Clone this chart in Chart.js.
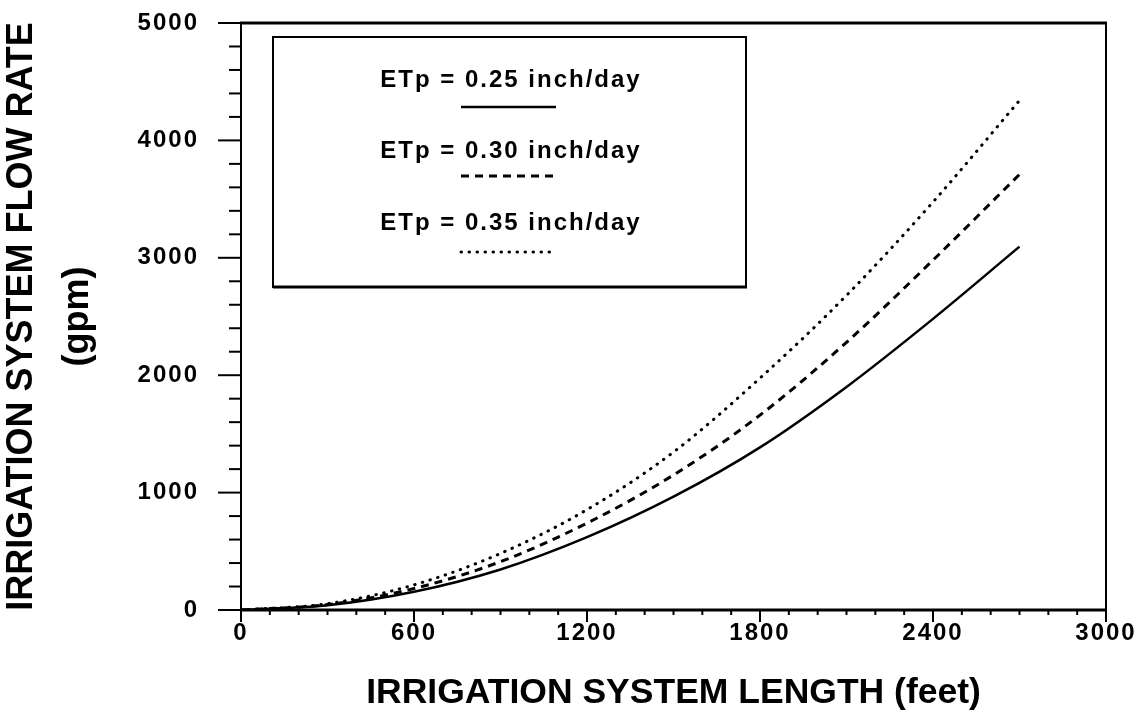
<!DOCTYPE html>
<html>
<head>
<meta charset="utf-8">
<script src="https://cdn.jsdelivr.net/npm/chart.js@4/dist/chart.umd.min.js"></script>
<style>
  html, body { margin: 0; padding: 0; background: #fff; }
  #wrap { width: 1145px; height: 714px; }
</style>
</head>
<body>
<div id="wrap"><canvas id="c" width="1145" height="714"></canvas></div>
<script>
// --- data (length in feet, flow in gpm) ---
const LENGTH_FT = [0, 300, 600, 900, 1200, 1500, 1800, 2100, 2400, 2700];
const FLOW_025 = [0, 40, 155, 345, 620, 965, 1385, 1900, 2480, 3095];
const FLOW_030 = [0, 46, 183, 412, 740, 1150, 1660, 2280, 2980, 3710];
const FLOW_035 = [0, 54, 214, 482, 855, 1345, 1975, 2680, 3475, 4340];
const SERIES_LABELS = ["ETp = 0.25 inch/day", "ETp = 0.30 inch/day", "ETp = 0.35 inch/day"];
const X_TICKS = [0, 600, 1200, 1800, 2400, 3000];
const Y_TICKS = [0, 1000, 2000, 3000, 4000, 5000];
const X_TITLE = "IRRIGATION SYSTEM LENGTH (feet)";
const Y_TITLE = ["IRRIGATION SYSTEM FLOW RATE", "(gpm)"];

const pts = (ys) => LENGTH_FT.map((x, i) => ({ x, y: ys[i] }));
const SANS = '"Liberation Sans", Arial, sans-serif';

// frame + minor/major tick marks (outside), drawn through the scales
const framePlugin = {
  id: "frame",
  afterDatasetsDraw(chart) { chart.ctx.letterSpacing = "2px"; }, // wide tick digits
  afterDraw(chart) {
    const { ctx, chartArea: a, scales: { x, y } } = chart;
    ctx.save();
    ctx.letterSpacing = "0px";
    ctx.strokeStyle = "#000";
    ctx.lineCap = "butt";
    const seg = (x1, y1, x2, y2, w) => { ctx.lineWidth = w; ctx.beginPath(); ctx.moveTo(x1, y1); ctx.lineTo(x2, y2); ctx.stroke(); };
    for (let v = x.min; v <= x.max; v += 100) {
      const px = x.getPixelForValue(v);
      seg(px, a.bottom, px, a.bottom + (v % 600 === 0 ? 12 : 5), 2);
    }
    for (let v = y.min; v <= y.max; v += 200) {
      const py = y.getPixelForValue(v);
      seg(a.left - (v % 1000 === 0 ? 23 : 12), py, a.left, py, 2);
    }
    seg(a.left - 1, a.top, a.right + 1, a.top, 3);
    seg(a.left - 1, a.bottom, a.right + 1, a.bottom, 3);
    seg(a.left, a.top, a.left, a.bottom, 2);
    seg(a.right, a.top, a.right, a.bottom, 2);
    ctx.restore();
  }
};

// boxed legend: label text with the line sample underneath
const boxLegend = {
  id: "boxLegend",
  afterDraw(chart) {
    const { ctx } = chart;
    ctx.save();
    ctx.strokeStyle = "#000";
    ctx.lineWidth = 2;
    ctx.strokeRect(273, 37, 473, 250);
    ctx.lineWidth = 3;
    ctx.beginPath(); ctx.moveTo(273, 287); ctx.lineTo(747, 287); ctx.stroke();
    const textY = [87, 158, 230];
    const lineY = [107, 176, 252];
    ctx.fillStyle = "#000";
    ctx.font = "bold 24px " + SANS;
    ctx.letterSpacing = "2px";
    ctx.textAlign = "center";
    ctx.textBaseline = "alphabetic";
    chart.data.datasets.forEach((ds, i) => {
      ctx.fillText(ds.label, 511, textY[i]);
      ctx.lineWidth = ds.borderWidth;
      ctx.lineCap = ds.borderCapStyle || "butt";
      ctx.setLineDash(ds.borderDash || []);
      ctx.beginPath(); ctx.moveTo(461, lineY[i]); ctx.lineTo(556, lineY[i]); ctx.stroke();
    });
    ctx.restore();
  }
};

new Chart(document.getElementById("c"), {
  type: "line",
  data: {
    datasets: [
      { label: SERIES_LABELS[0], data: pts(FLOW_025), borderColor: "#000", borderWidth: 2.5, borderDash: [], borderCapStyle: "butt" },
      { label: SERIES_LABELS[1], data: pts(FLOW_030), borderColor: "#000", borderWidth: 3, borderDash: [8, 6], borderCapStyle: "butt" },
      { label: SERIES_LABELS[2], data: pts(FLOW_035), borderColor: "#000", borderWidth: 3, borderDash: [0.5, 7.5], borderCapStyle: "round" },
    ],
  },
  options: {
    responsive: false,
    devicePixelRatio: 1,
    animation: false,
    layout: { padding: { top: 23, right: 39, left: 0, bottom: 0 } },
    elements: { point: { radius: 0 }, line: { cubicInterpolationMode: "monotone", fill: false } },
    plugins: { legend: { display: false }, tooltip: { enabled: false } },
    scales: {
      x: {
        type: "linear", min: 0, max: 3000,
        afterBuildTicks: (s) => { s.ticks = X_TICKS.map((v) => ({ value: v })); },
        afterFit: (s) => { s.height = 104; },
        grid: { display: false },
        border: { display: false },
        ticks: { z: 1, padding: 1, color: "#000", font: { family: SANS, size: 24, weight: "bold" }, callback: (v) => String(v), maxRotation: 0 },
        title: { display: true, text: X_TITLE, color: "#000", font: { family: SANS, size: 35.5, weight: "bold", lineHeight: 1.2 }, padding: { top: 0, bottom: -1 } },
      },
      y: {
        type: "linear", min: 0, max: 5000,
        afterBuildTicks: (s) => { s.ticks = Y_TICKS.map((v) => ({ value: v })); },
        afterFit: (s) => { s.width = 241; s.paddingTop = 0; s.paddingBottom = 0; },
        grid: { display: true, drawOnChartArea: false, tickLength: 42, tickColor: "rgba(0,0,0,0)" },
        border: { display: false },
        ticks: { z: 1, padding: 0, color: "#000", font: { family: SANS, size: 24, weight: "bold" }, callback: (v) => String(v) },
        title: { display: true, text: Y_TITLE, color: "#000", font: { family: SANS, size: 36, weight: "bold", lineHeight: 1.55 }, padding: { top: -6, bottom: 0 } },
      },
    },
  },
  plugins: [framePlugin, boxLegend],
});
</script>
</body>
</html>
